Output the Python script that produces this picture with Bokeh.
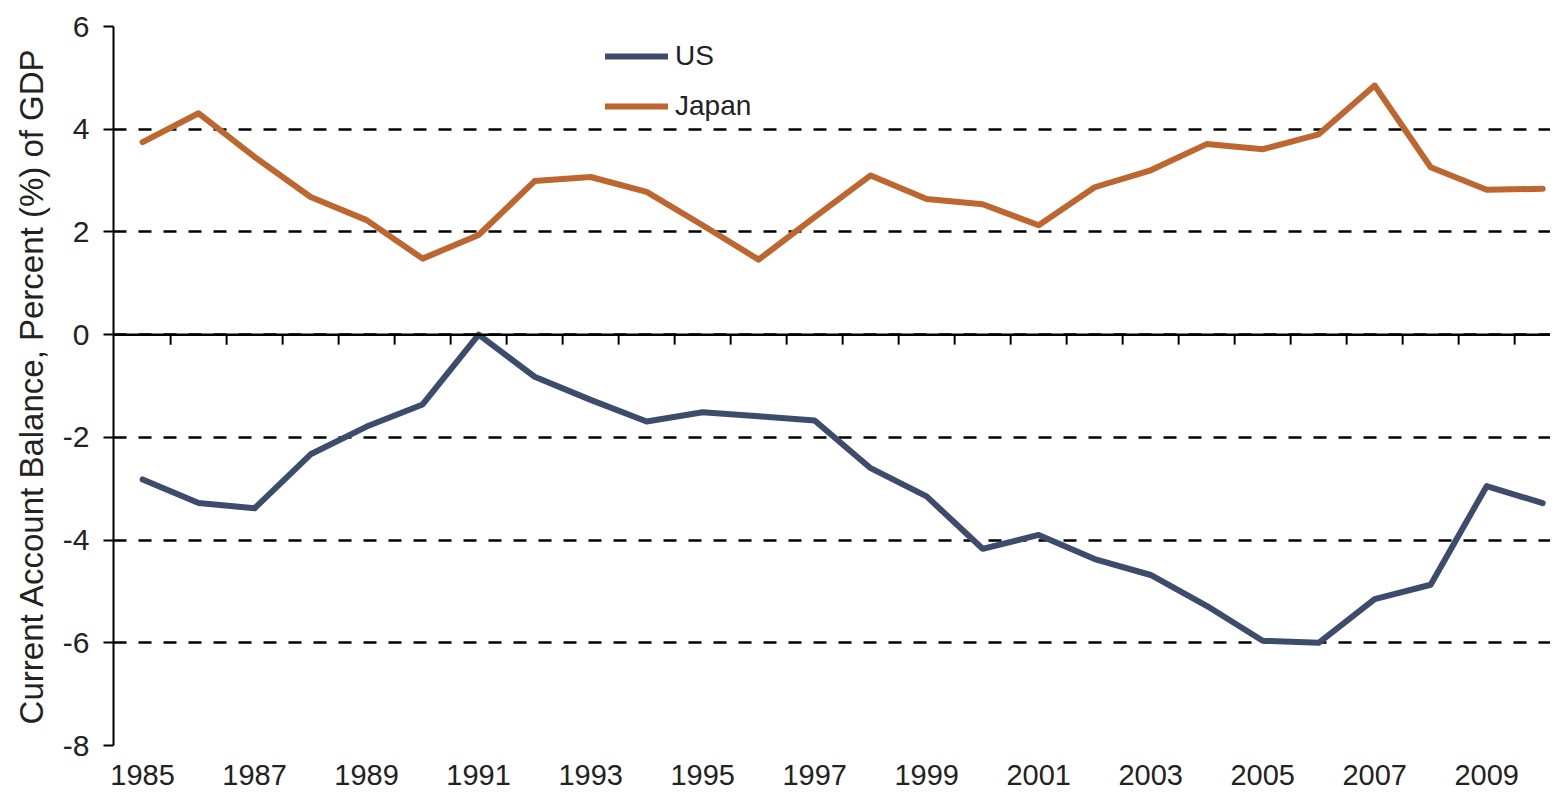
from bokeh.plotting import figure
from bokeh.models import FixedTicker, Span, Range1d, Legend, LegendItem
from bokeh.embed import file_html
from bokeh.resources import INLINE

years = list(range(1985, 2011))
us = [-2.82, -3.28, -3.38, -2.33, -1.79, -1.36, 0.0, -0.82, -1.27, -1.69,
      -1.51, -1.59, -1.67, -2.6, -3.15, -4.17, -3.9, -4.37, -4.68, -5.28,
      -5.96, -6.0, -5.15, -4.87, -2.95, -3.28]
japan = [3.75, 4.31, 3.46, 2.68, 2.23, 1.48, 1.94, 2.99, 3.07, 2.78,
         2.13, 1.46, 2.29, 3.1, 2.64, 2.54, 2.13, 2.87, 3.2, 3.71,
         3.61, 3.9, 4.85, 3.26, 2.82, 2.84]
x_tick_labels = years[::2][:13]
y_ticks = [-8, -6, -4, -2, 0, 2, 4, 6]
y_label = "Current Account Balance, Percent (%) of GDP"

US_COLOR = "#3D4C6C"
JP_COLOR = "#BE6630"
FONT = "Liberation Sans"
TEXT = "#222222"

p = figure(width=1550, height=789, output_backend="svg", toolbar_location=None,
           x_range=Range1d(1984.48, 2010.14), y_range=Range1d(-8, 6),
           min_border_left=113, min_border_right=0, min_border_top=26,
           min_border_bottom=44)
p.outline_line_color = None
p.background_fill_color = "white"
p.border_fill_color = "white"

# grid
p.xgrid.grid_line_color = None
p.ygrid.ticker = FixedTicker(ticks=y_ticks)
p.ygrid.grid_line_color = "black"
p.ygrid.grid_line_width = 2.5
p.ygrid.grid_line_dash = "13 12"

# y axis
p.yaxis.ticker = FixedTicker(ticks=y_ticks)
p.yaxis.major_label_overrides = {t: str(t) for t in y_ticks}
p.yaxis.axis_line_color = "black"
p.yaxis.axis_line_width = 2
p.yaxis.major_tick_line_color = "black"
p.yaxis.major_tick_line_width = 2
p.yaxis.major_tick_out = 10
p.yaxis.major_tick_in = 0
p.yaxis.minor_tick_line_color = None
p.yaxis.major_label_standoff = 14
p.yaxis.major_label_text_font = FONT
p.yaxis.major_label_text_font_size = "30px"
p.yaxis.major_label_text_color = TEXT
p.yaxis.axis_label = y_label
p.yaxis.axis_label_text_font = FONT
p.yaxis.axis_label_text_font_size = "33px"
p.yaxis.axis_label_text_font_style = "normal"
p.yaxis.axis_label_text_color = TEXT
p.yaxis.axis_label_standoff = 10

# x axis (labels only at bottom)
p.xaxis.ticker = FixedTicker(ticks=x_tick_labels)
p.xaxis.axis_line_color = None
p.xaxis.major_tick_line_color = None
p.xaxis.minor_tick_line_color = None
p.xaxis.major_tick_out = 0
p.xaxis.major_tick_in = 0
p.xaxis.major_label_standoff = 19
p.xaxis.major_label_text_font = FONT
p.xaxis.major_label_text_font_size = "29px"
p.xaxis.major_label_text_color = TEXT

# zero line with category tick marks
zero = Span(location=0, dimension="width", line_color="black", line_width=2.5)
p.add_layout(zero)
tick_len = 10 / (719 / 14)
bounds = [y + 0.5 for y in years[:-1]]
p.segment(x0=bounds, y0=[0] * len(bounds), x1=bounds, y1=[-tick_len] * len(bounds),
          line_color="black", line_width=2)

r_us = p.line(years, us, line_color=US_COLOR, line_width=6, line_join="round", line_cap="round")
r_jp = p.line(years, japan, line_color=JP_COLOR, line_width=6, line_join="round", line_cap="round")

legend = Legend(items=[LegendItem(label="US", renderers=[r_us]),
                       LegendItem(label="Japan", renderers=[r_jp])],
                location=(492, 623))
legend.background_fill_color = "white"
legend.background_fill_alpha = 1.0
legend.border_line_color = None
legend.glyph_width = 63
legend.glyph_height = 30
legend.label_height = 30
legend.label_standoff = 7
legend.spacing = 18
legend.padding = 12
legend.margin = 0
legend.label_text_font = FONT
legend.label_text_font_size = "28px"
legend.label_text_color = TEXT
p.add_layout(legend, "center")

open("out.html", "w").write(file_html(p, INLINE))
